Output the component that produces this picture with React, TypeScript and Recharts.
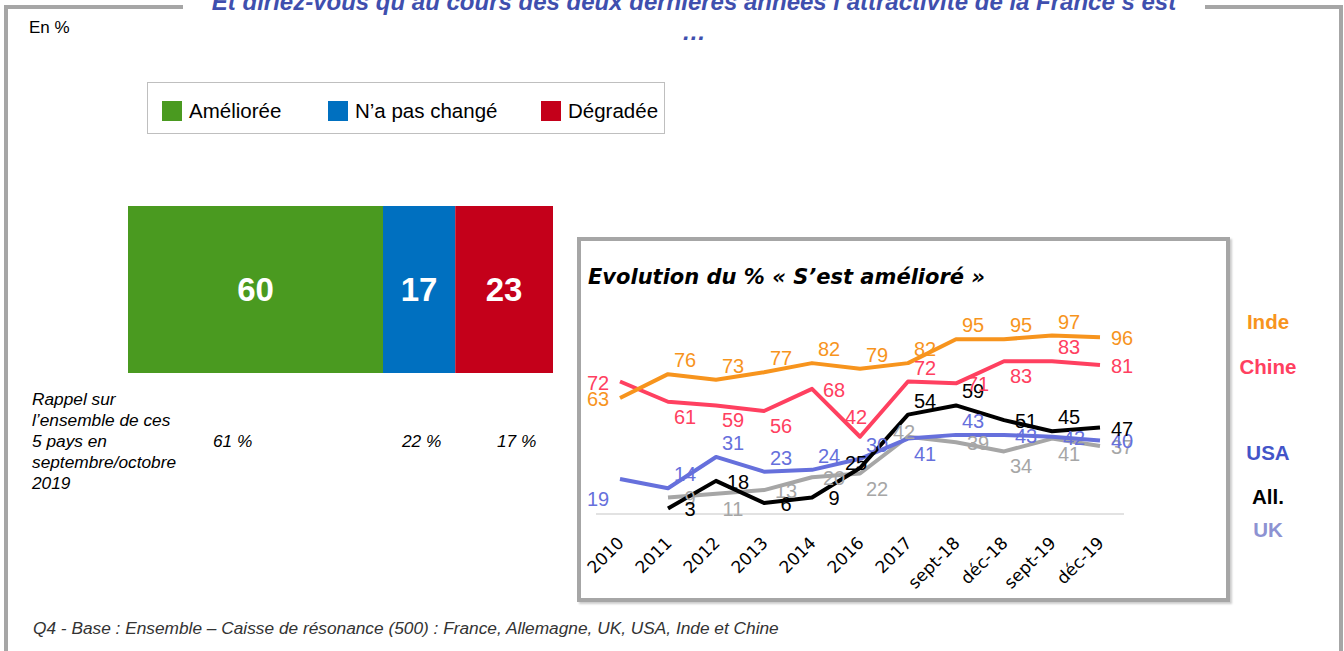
import React from 'react'
import { BarChart, Bar, LineChart, Line, XAxis, YAxis, LabelList } from 'recharts'

// stacked bar: "Et diriez-vous ... s'est"
const BAR_KEYS = ['ameliore', 'inchange', 'degrade']
const BAR_NAMES = ['Améliorée', 'N’a pas changé', 'Dégradée']
const BAR_VALUES = [60, 17, 23]
const RECALL = ['61 %', '22 %', '17 %']

// evolution du % "S'est amélioré"
const CATEGORIES = ['2010', '2011', '2012', '2013', '2014', '2016', '2017', 'sept-18', 'déc-18', 'sept-19', 'déc-19']
const INDE = [63, 76, 73, 77, 82, 79, 82, 95, 95, 97, 96]
const CHINE = [72, 61, 59, 56, 68, 42, 72, 71, 83, 83, 81]
const USA = [19, 14, 31, 23, 24, 30, 41, 43, 43, 42, 40]
const ALL = [null, 3, 18, 6, 9, 25, 54, 59, 51, 45, 47]
const UK = [null, 9, 11, 13, 20, 22, 42, 39, 34, 41, 37]

const BAR_COLORS = ['#4a9a20', '#0070c0', '#c4001a']
const FRAME = '#a6a6a6'
const ARIAL = '"Liberation Sans", Arial, sans-serif'

// where each data label sits around its point
const LABEL_OFFSET: Record<string, [number, number]> = {
  l: [-22, 1],
  r: [22, 1],
  t: [17, -14],
  b: [17, 15],
  tl: [-4, -20],
  bl: [-22, 20],
  c: [-4, -5],
}

const SERIES = [
  { key: 'uk', name: 'UK', values: UK, color: '#a6a6a6', legendColor: '#8d92d2', pos: ['', 'r', 'b', 'r', 'r', 'b', 'c', 'r', 'b', 'b', 'r'] },
  { key: 'usa', name: 'USA', values: USA, color: '#6670dc', legendColor: '#4354c8', pos: ['bl', 't', 't', 't', 't', 't', 'b', 't', 'r', 'r', 'r'] },
  { key: 'all', name: 'All.', values: ALL, color: '#000000', legendColor: '#000000', pos: ['', 'r', 'r', 'r', 'r', 'c', 't', 't', 'r', 't', 'r'] },
  { key: 'chine', name: 'Chine', values: CHINE, color: '#ff4060', legendColor: '#ff4060', pos: ['l', 'b', 'b', 'b', 'r', 'tl', 't', 'r', 'b', 't', 'r'] },
  { key: 'inde', name: 'Inde', values: INDE, color: '#f7941d', legendColor: '#f7941d', pos: ['l', 't', 't', 't', 't', 't', 't', 't', 't', 't', 'r'] },
]

const barData = [
  BAR_KEYS.reduce((row: any, k, i) => ({ ...row, [k]: BAR_VALUES[i] }), { name: 'total' }),
]

const lineData = CATEGORIES.map((c, i) => {
  const row: any = { cat: c }
  SERIES.forEach((s) => (row[s.key] = s.values[i]))
  return row
})

const AngleTick = ({ x, y, payload }: any) => (
  <g transform={`translate(${x + 5},${y + 22})`}>
    <text textAnchor='end' transform='rotate(-45)' fontSize={17} fill='#000' fontFamily='"DejaVu Sans", sans-serif'>
      {payload.value}
    </text>
  </g>
)

const pointLabel = (color: string, pos: string[]) => (props: any) => {
  const { x, y, value, index } = props
  if (value == null || x == null || y == null) return null
  const [dx, dy] = LABEL_OFFSET[pos[index]] || LABEL_OFFSET.t
  return (
    <text x={x + dx} y={y + dy} textAnchor='middle' dominantBaseline='central' fontSize={20} fill={color} fontFamily={ARIAL}>
      {value}
    </text>
  )
}

// right-hand series names, top to bottom
const SIDE_LABELS = [
  { name: 'Inde', top: 310 },
  { name: 'Chine', top: 355 },
  { name: 'USA', top: 441 },
  { name: 'All.', top: 485 },
  { name: 'UK', top: 518 },
]

export default function App() {
  const abs = (left: number, top: number, extra: any = {}) => ({ position: 'absolute' as const, left, top, ...extra })
  return (
    <div style={{ position: 'fixed', left: 0, top: 0, width: 1344, height: 651, overflow: 'hidden', background: '#fff', fontFamily: ARIAL }}>
      {/* outer frame */}
      <div style={abs(4, 5, { width: 1331, height: 642, border: `4px solid ${FRAME}`, boxSizing: 'content-box' })} />
      <div
        style={abs(183, -13, {
          width: 1022,
          textAlign: 'center',
          background: '#fff',
          color: '#3f4fae',
          fontSize: 24,
          fontWeight: 'bold',
          fontStyle: 'italic',
          lineHeight: '30px',
          whiteSpace: 'nowrap',
        })}
      >
        Et diriez-vous qu’au cours des deux dernières années l’attractivité de la France s’est
        <br />…
      </div>
      <div style={abs(29, 18, { fontSize: 17, color: '#000' })}>En %</div>

      {/* legend */}
      <div style={abs(147, 82, { width: 518, height: 52, border: '1px solid #bfbfbf', boxSizing: 'border-box' })}>
        {BAR_NAMES.map((n, i) => (
          <div key={n} style={abs([14, 180, 393][i], 16, { display: 'flex', alignItems: 'center', fontSize: 20.5, whiteSpace: 'nowrap' })}>
            <span style={{ width: 20, height: 20, background: BAR_COLORS[i], marginRight: 7, display: 'inline-block' }} />
            {n}
          </div>
        ))}
      </div>

      <div style={abs(128, 206)}>
        <BarChart width={425} height={167} data={barData} layout='vertical' margin={{ top: 0, right: 0, bottom: 0, left: 0 }} barCategoryGap={0}>
          <XAxis type='number' domain={[0, 100]} hide />
          <YAxis type='category' dataKey='name' hide />
          {BAR_KEYS.map((k, i) => (
            <Bar key={k} dataKey={k} stackId='a' fill={BAR_COLORS[i]} isAnimationActive={false}>
              <LabelList dataKey={k} position='center' fill='#fff' fontSize={33} fontWeight='bold' fontFamily={ARIAL} />
            </Bar>
          ))}
        </BarChart>
      </div>

      <div style={abs(32, 389, { fontSize: 17.3, fontStyle: 'italic', lineHeight: '21px', color: '#000' })}>
        Rappel sur
        <br />
        l’ensemble de ces
        <br />5 pays en
        <br />
        septembre/octobre
        <br />
        2019
      </div>
      {RECALL.map((r, i) => (
        <div key={i} style={abs([213, 402, 497][i], 431, { fontSize: 17.3, fontStyle: 'italic', lineHeight: '21px' })}>
          {r}
        </div>
      ))}

      {/* evolution box */}
      <div style={abs(577, 237, { width: 645, height: 357, border: `4px solid ${FRAME}`, boxShadow: '2px 2px 2px #ccc' })} />
      <div
        style={abs(588, 265, {
          fontSize: 21,
          fontWeight: 'bold',
          fontStyle: 'italic',
          fontFamily: '"DejaVu Sans", sans-serif',
          color: '#000',
          whiteSpace: 'nowrap',
        })}
      >
        Evolution du % « S’est amélioré »
      </div>
      <div style={abs(577, 236)}>
        <LineChart width={652} height={366} data={lineData} margin={{ top: 94, right: 105, bottom: 28, left: 19 }}>
          <XAxis
            dataKey='cat'
            interval={0}
            height={60}
            padding={{ left: 24, right: 24 }}
            axisLine={{ stroke: '#d9d9d9', strokeWidth: 1.5 }}
            tickLine={false}
            tick={<AngleTick />}
          />
          <YAxis domain={[0, 100]} hide />
          {SERIES.map((s) => (
            <Line
              key={s.key}
              type='linear'
              dataKey={s.key}
              stroke={s.color}
              strokeWidth={4}
              strokeLinejoin='round'
              dot={false}
              activeDot={false}
              isAnimationActive={false}
            >
              <LabelList dataKey={s.key} content={pointLabel(s.color, s.pos)} />
            </Line>
          ))}
        </LineChart>
      </div>

      {SIDE_LABELS.map((l) => {
        const s = SERIES.find((x) => x.name === l.name)!
        return (
          <div key={l.name} style={abs(1207, l.top, { width: 122, textAlign: 'center', fontSize: 20.5, fontWeight: 'bold', color: s.legendColor })}>
            {l.name}
          </div>
        )
      })}

      <div style={abs(33, 618, { fontSize: 17.3, fontStyle: 'italic', color: '#333', whiteSpace: 'nowrap' })}>
        Q4 - Base : Ensemble – Caisse de résonance (500) : France, Allemagne, UK, USA, Inde et Chine
      </div>
    </div>
  )
}
